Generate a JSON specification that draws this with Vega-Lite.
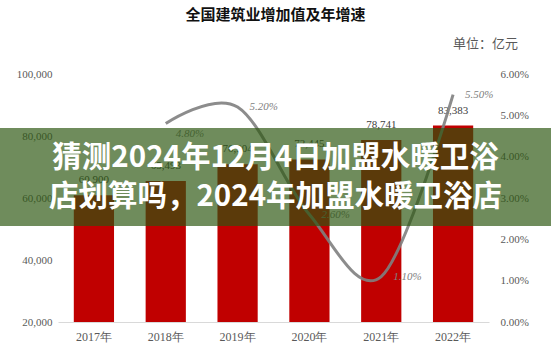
{
  "$schema": "https://vega.github.io/schema/vega-lite/v6.json",
  "width": 551,
  "height": 354,
  "autosize": {"type": "none"},
  "padding": 0,
  "background": "white",
  "title": {
    "text": "全国建筑业增加值及年增速",
    "anchor": "middle",
    "frame": "group",
    "offset": -23,
    "font": "Noto Sans CJK SC",
    "fontSize": 15,
    "fontWeight": "bold",
    "color": "#111111"
  },
  "config": {"view": {"stroke": null}},
  "data": {
    "values": [
      {"year": "2017年", "value": 60900, "rate": null},
      {"year": "2018年", "value": 65493, "rate": 0.048},
      {"year": "2019年", "value": 70904, "rate": 0.052},
      {"year": "2020年", "value": 72445, "rate": 0.026},
      {"year": "2021年", "value": 78741, "rate": 0.011},
      {"year": "2022年", "value": 83383, "rate": 0.055}
    ]
  },
  "resolve": {"scale": {"y": "independent"}},
  "layer": [
    {
      "mark": {"type": "bar", "color": "#c00000"},
      "encoding": {
        "x": {
          "field": "year", "type": "nominal", "sort": null,
          "scale": {"range": [58, 489], "paddingInner": 0.44, "paddingOuter": 0.22},
          "axis": {
            "title": null, "orient": "bottom", "offset": -32, "ticks": false,
            "domainColor": "#d9d9d9", "domainWidth": 1, "labelAngle": 0,
            "labelFont": "Liberation Serif", "labelFontSize": 12, "labelColor": "#595959",
            "labelPadding": 9
          }
        },
        "y": {
          "field": "value", "type": "quantitative",
          "scale": {"domain": [20000, 100000], "range": [322, 74], "zero": false, "nice": false},
          "axis": {
            "title": null, "orient": "left", "offset": -58, "values": [20000, 40000, 60000, 80000, 100000],
            "format": ",.0f", "grid": false, "domain": false, "ticks": false, "labelPadding": 6,
            "labelFont": "Liberation Serif", "labelFontSize": 11, "labelColor": "#595959"
          }
        },
        "y2": {"datum": 20000}
      }
    },
    {
      "mark": {"type": "text", "dy": -10, "font": "Liberation Serif", "fontSize": 11, "color": "#404040", "baseline": "bottom"},
      "encoding": {
        "x": {"field": "year", "type": "nominal", "sort": null},
        "y": {"field": "value", "type": "quantitative",
          "scale": {"domain": [20000, 100000], "range": [322, 74], "zero": false, "nice": false}, "axis": null},
        "text": {"field": "value", "type": "quantitative", "format": ",.0f"}
      }
    },
    {
      "transform": [{"filter": "datum.rate != null"}],
      "mark": {"type": "line", "color": "#808080", "strokeWidth": 3, "interpolate": "cardinal", "opacity": 0.9},
      "encoding": {
        "x": {"field": "year", "type": "nominal", "sort": null},
        "y": {
          "field": "rate", "type": "quantitative",
          "scale": {"domain": [0, 0.06], "range": [322, 74], "zero": false, "nice": false},
          "axis": {
            "title": "单位：亿元", "titleAngle": 0, "titleX": -4, "titleY": 43, "titleAlign": "center",
            "titleBaseline": "middle", "titleFont": "Noto Sans CJK SC", "titleFontSize": 13,
            "titleFontWeight": "normal", "titleColor": "#595959",
            "orient": "right", "offset": -62, "values": [0, 0.01, 0.02, 0.03, 0.04, 0.05, 0.06],
            "format": ".2%", "grid": false, "domain": false, "ticks": false, "labelPadding": 11,
            "labelFont": "Liberation Serif", "labelFontSize": 11, "labelColor": "#595959"
          }
        }
      }
    },
    {
      "transform": [{"filter": "datum.rate != null && datum.year != '2018年'"}],
      "mark": {"type": "text", "dx": 12, "align": "left", "baseline": "middle", "font": "Liberation Serif", "fontSize": 11, "fontStyle": "italic", "color": "#808080"},
      "encoding": {
        "x": {"field": "year", "type": "nominal", "sort": null},
        "y": {"field": "rate", "type": "quantitative",
          "scale": {"domain": [0, 0.06], "range": [322, 74], "zero": false, "nice": false}, "axis": null},
        "text": {"field": "rate", "type": "quantitative", "format": ".2%"}
      }
    },
    {
      "transform": [{"filter": "datum.year == '2018年'"}],
      "mark": {"type": "text", "dx": 10, "dy": 10, "align": "left", "baseline": "middle", "font": "Liberation Serif", "fontSize": 11, "fontStyle": "italic", "color": "#808080"},
      "encoding": {
        "x": {"field": "year", "type": "nominal", "sort": null},
        "y": {"field": "rate", "type": "quantitative",
          "scale": {"domain": [0, 0.06], "range": [322, 74], "zero": false, "nice": false}, "axis": null},
        "text": {"field": "rate", "type": "quantitative", "format": ".2%"}
      }
    },
    {
      "data": {"values": [{"banner": 1}]},
      "mark": {"type": "rect", "fill": "#2b550f", "fillOpacity": 0.68, "strokeWidth": 0},
      "encoding": {
        "y": {"datum": 82581, "type": "quantitative",
          "scale": {"domain": [20000, 100000], "range": [322, 74], "zero": false, "nice": false}, "axis": null},
        "y2": {"datum": 50968}
      }
    },
    {
      "data": {"values": [{"banner": 1}]},
      "mark": {
        "type": "text",
        "text": ["猜测2024年12月4日加盟水暖卫浴", "店划算吗，2024年加盟水暖卫浴店"],
        "font": "Noto Sans CJK SC", "fontSize": 29.5, "fontWeight": "bold", "color": "white",
        "align": "center", "baseline": "middle", "lineHeight": 39
      },
      "encoding": {
        "y": {"datum": 72903, "type": "quantitative",
          "scale": {"domain": [20000, 100000], "range": [322, 74], "zero": false, "nice": false}, "axis": null}
      }
    }
  ]
}
